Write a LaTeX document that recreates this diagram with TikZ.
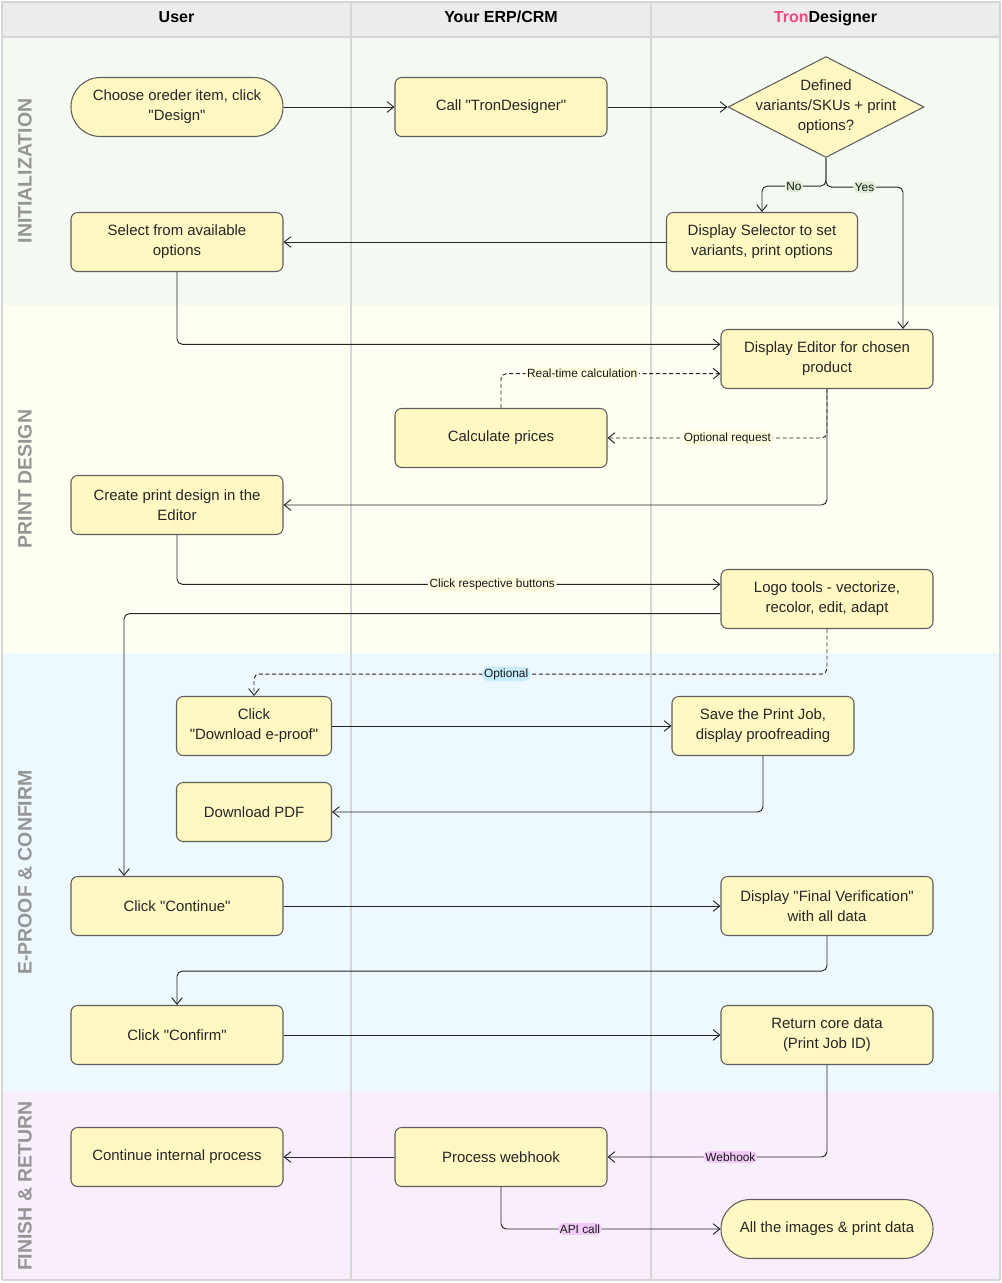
\documentclass[tikz,border=0pt]{standalone}
\usepackage{fontspec}
\setmainfont{Liberation Sans}[Ligatures=TeXOff]
\usetikzlibrary{arrows.meta,shapes.geometric}

\definecolor{laneline}{HTML}{D6D6D6}
\definecolor{headfill}{HTML}{ECECEC}
\definecolor{bandinit}{HTML}{F4F9F1}
\definecolor{banddesign}{HTML}{FFFEF2}
\definecolor{bandproof}{HTML}{EEF8FF}
\definecolor{bandfinish}{HTML}{F9EEFC}
\definecolor{boxfill}{HTML}{FFF8C2}
\definecolor{boxline}{HTML}{5F5F5F}
\definecolor{phasegray}{HTML}{959595}
\definecolor{tronpink}{HTML}{F04A7C}
\definecolor{lblgreen}{HTML}{DDEBD5}
\definecolor{lblyellow}{HTML}{FFFBDE}
\definecolor{lblblue}{HTML}{C7ECFB}
\definecolor{lblpink}{HTML}{F1C9F7}

\tikzset{
  box/.style={draw=boxline, line width=0.8pt, fill=boxfill, rounded corners=5pt,
    minimum width=159pt, minimum height=44.25pt, align=center, text=black!85,
    font=\fontsize{11.2}{15}\selectfont},
  stadium/.style={box, rounded corners=22pt},
  flow/.style={draw=black!85, line width=0.7pt, rounded corners=4pt,
    -{Straight Barb[length=5pt,width=8pt]}},
  dashflow/.style={flow, dash pattern=on 3pt off 2pt},
  elabel/.style={font=\fontsize{8.9}{10}\selectfont, inner sep=1.2pt, text=black!90},
  phase/.style={font=\bfseries\fontsize{14.6}{16}\selectfont, text=phasegray, rotate=90},
  header/.style={font=\bfseries\fontsize{12}{14}\selectfont, text height=1.6ex, text depth=0.2ex}
}

\begin{document}
\begin{tikzpicture}[x=0.75pt,y=-0.75pt]
  \useasboundingbox (0,0) rectangle (1002,1283);

  % Phase bands with their labels
  \foreach \ya/\yb/\col/\name [count=\i] in {37/305/bandinit/INITIALIZATION,
      305/653/banddesign/PRINT DESIGN, 653/1092/bandproof/E-PROOF \& CONFIRM,
      1092/1280/bandfinish/FINISH \& RETURN} {
    \fill[\col] (2,\ya) rectangle (1000,\yb);
    \node[phase] (phase\i) at (25,{(\ya+\yb)/2}) {\name};
  }

  % Lane headers
  \foreach \xa/\xb/\name [count=\i] in {2/351/User, 351/651/{Your ERP/CRM},
      651/1000/{\textcolor{tronpink}{Tron}Designer}} {
    \filldraw[fill=headfill, draw=laneline, line width=1.5pt] (\xa,2) rectangle (\xb,37);
    \node[header] (head\i) at ({(\xa+\xb)/2},18) {\name};
  }

  % Lane separators
  \foreach \x in {2,351,651,1000} {
    \draw[laneline, line width=1.5pt] (\x,37) -- (\x,1280);
  }
  \draw[laneline, line width=1.5pt] (2,1280) -- (1000,1280);

  % Initialization
  \node[stadium] (choose) at (177,107) {Choose oreder item, click\\"Design"};
  \node[box] (call) at (501,107) {Call "TronDesigner"};
  \node[diamond, draw=boxline, line width=0.8pt, fill=boxfill, minimum width=147pt,
    minimum height=75.75pt, inner sep=0pt] (check) at (826,107) {};
  \node[align=center, text=black!85, font=\fontsize{11.2}{15}\selectfont]
    (checktext) at (check) {Defined\\variants/SKUs + print\\options?};
  \node[box] (pick) at (177,242) {Select from available\\options};
  \node[box, minimum width=143.25pt] (selector) at (762,242)
    {Display Selector to set\\variants, print options};

  % Print design
  \node[box] (editor) at (827,359) {Display Editor for chosen\\product};
  \node[box] (prices) at (501,438) {Calculate prices};
  \node[box] (create) at (177,505) {Create print design in the\\Editor};
  \node[box] (logo) at (827,599) {Logo tools - vectorize,\\recolor, edit, adapt};

  % E-proof and confirm
  \node[box, minimum width=116.25pt] (eproof) at (254,726) {Click\\"Download e-proof"};
  \node[box, minimum width=136.5pt] (save) at (763,726) {Save the Print Job,\\display proofreading};
  \node[box, minimum width=116.25pt] (pdf) at (254,812) {Download PDF};
  \node[box] (continue) at (177,906) {Click "Continue"};
  \node[box] (final) at (827,906) {Display "Final Verification"\\with all data};
  \node[box] (confirm) at (177,1035) {Click "Confirm"};
  \node[box] (core) at (827,1035) {Return core data\\(Print Job ID)};

  % Finish and return
  \node[box] (internal) at (177,1157) {Continue internal process};
  \node[box] (webhook) at (501,1157) {Process webhook};
  \node[stadium] (images) at (827,1229) {All the images \& print data};

  % Connectors
  \draw[flow] (choose) -- (call);
  \draw[flow] (call) -- (check.west);
  \draw[flow] (check.south) -- ++(0,28) -| node[pos=0.25, elabel, fill=lblgreen] {No} (selector.north);
  \draw[flow] (check.south) -- ++(0,29) -| node[pos=0.25, elabel, fill=lblgreen] {Yes} ([xshift=57pt]editor.north);
  \draw[flow] (selector) -- (pick);
  \draw[flow] (pick.south) |- ([yshift=11pt]editor.west);
  \draw[dashflow] (prices.north) |- node[pos=0.685, elabel, fill=lblyellow] {Real-time calculation} ([yshift=-11pt]editor.west);
  \draw[dashflow] (editor.south) |- node[pos=0.727, elabel, fill=lblyellow] {Optional request} (prices.east);
  \draw[flow] (editor.south) |- (create.east);
  \draw[flow] (create.south) |- node[pos=0.79, elabel, fill=lblyellow] {Click respective buttons} ([yshift=11pt]logo.west);
  \draw[flow] ([yshift=-11pt]logo.west) -| ([xshift=-39.75pt]continue.north);
  \draw[dashflow] (logo.south) -- ++(0,45) -| node[pos=0.28, elabel, fill=lblblue] {Optional} (eproof.north);
  \draw[flow] (eproof) -- (save);
  \draw[flow] (save.south) |- (pdf.east);
  \draw[flow] (continue) -- (final);
  \draw[flow] (final.south) -- ++(0,35) -| (confirm.north);
  \draw[flow] (confirm) -- (core);
  \draw[flow] (core.south) |- node[pos=0.72, elabel, fill=lblpink] {Webhook} (webhook.east);
  \draw[flow] (webhook) -- (internal);
  \draw[flow] (webhook.south) |- node[pos=0.68, elabel, fill=lblpink] {API call} (images.west);
\end{tikzpicture}
\end{document}
